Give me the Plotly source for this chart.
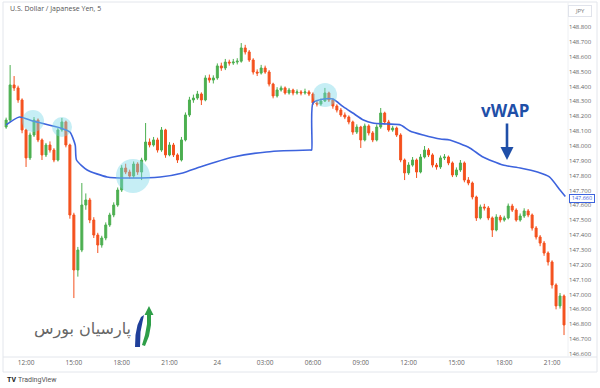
import pandas as pd
import plotly.graph_objects as go

# ---------------- data (15-min aggregation) ----------------
first_open = 148.127
close = [148.174, 148.410, 148.390, 148.309, 148.107, 147.919, 148.073, 148.174, 148.040, 147.939,
         148.006, 147.972, 147.905, 148.107, 148.161, 148.006, 147.535, 147.165, 147.299, 147.602,
         147.636, 147.501, 147.400, 147.333, 147.380, 147.468, 147.535, 147.602, 147.703, 147.851,
         147.824, 147.797, 147.878, 147.824, 147.905, 148.026, 148.006, 148.040, 147.972, 148.107,
         147.939, 148.006, 147.939, 147.905, 148.040, 148.208, 148.309, 148.322, 148.349, 148.309,
         148.457, 148.443, 148.457, 148.538, 148.524, 148.564, 148.558, 148.564, 148.570, 148.659,
         148.632, 148.578, 148.497, 148.490, 148.524, 148.497, 148.416, 148.336, 148.376, 148.390,
         148.356, 148.376, 148.356, 148.363, 148.356, 148.363, 148.349, 148.289, 148.282, 148.302,
         148.356, 148.309, 148.268, 148.241, 148.208, 148.194, 148.161, 148.093, 148.127, 148.040,
         148.134, 148.087, 148.040, 148.127, 148.221, 148.161, 148.107, 148.120, 148.073, 147.905,
         147.818, 147.871, 147.905, 147.824, 147.925, 147.972, 147.939, 147.871, 147.858, 147.919,
         147.925, 147.885, 147.804, 147.838, 147.885, 147.770, 147.750, 147.656, 147.515, 147.589,
         147.582, 147.515, 147.434, 147.521, 147.501, 147.515, 147.595, 147.568, 147.501, 147.528,
         147.562, 147.535, 147.447, 147.387, 147.346, 147.279, 147.219, 147.064, 146.923, 146.990,
         146.795]
high = [148.190, 148.544, 148.470, 148.405, 148.320, 148.115, 148.090, 148.194, 148.185, 148.050,
        148.020, 148.030, 147.985, 148.120, 148.188, 148.170, 148.015, 147.550, 147.320, 147.750,
        147.680, 147.650, 147.520, 147.415, 147.395, 147.485, 147.550, 147.620, 147.720, 147.870,
        147.880, 147.840, 147.895, 147.890, 147.920, 148.154, 148.050, 148.060, 148.055, 148.127,
        148.115, 148.025, 148.020, 147.950, 148.060, 148.225, 148.330, 148.345, 148.370, 148.360,
        148.475, 148.480, 148.475, 148.555, 148.560, 148.585, 148.580, 148.585, 148.590, 148.692,
        148.680, 148.645, 148.590, 148.515, 148.545, 148.540, 148.510, 148.425, 148.395, 148.405,
        148.400, 148.390, 148.385, 148.380, 148.375, 148.385, 148.375, 148.360, 148.305, 148.320,
        148.390, 148.365, 148.320, 148.280, 148.255, 148.225, 148.205, 148.170, 148.145, 148.135,
        148.150, 148.145, 148.100, 148.145, 148.255, 148.230, 148.175, 148.135, 148.130, 148.085,
        147.915, 147.890, 147.925, 147.915, 147.945, 147.999, 147.985, 147.950, 147.885, 147.935,
        147.945, 147.935, 147.895, 147.855, 147.905, 147.895, 147.790, 147.760, 147.665, 147.605,
        147.610, 147.595, 147.525, 147.540, 147.535, 147.530, 147.612, 147.610, 147.580, 147.545,
        147.580, 147.575, 147.545, 147.460, 147.400, 147.360, 147.290, 147.230, 147.075, 147.010,
        147.000]
low = [148.115, 148.160, 148.370, 148.290, 148.085, 147.858, 147.905, 148.060, 148.025, 147.905,
       147.925, 147.955, 147.890, 147.895, 148.095, 147.990, 147.510, 146.976, 147.120, 147.285,
       147.570, 147.480, 147.380, 147.279, 147.315, 147.365, 147.455, 147.520, 147.590, 147.690,
       147.810, 147.780, 147.785, 147.805, 147.770, 147.895, 147.990, 147.995, 147.955, 147.960,
       147.920, 147.930, 147.925, 147.885, 147.895, 148.030, 148.195, 148.290, 148.310, 148.275,
       148.300, 148.425, 148.420, 148.445, 148.505, 148.510, 148.540, 148.545, 148.548, 148.560,
       148.615, 148.565, 148.480, 148.470, 148.480, 148.485, 148.400, 148.320, 148.325, 148.365,
       148.345, 148.345, 148.340, 148.345, 148.340, 148.345, 148.335, 148.275, 148.265, 148.270,
       148.295, 148.295, 148.250, 148.225, 148.195, 148.180, 148.145, 148.075, 148.080, 147.986,
       148.030, 148.070, 148.025, 148.030, 148.115, 148.145, 148.095, 148.095, 148.060, 147.890,
       147.770, 147.805, 147.860, 147.784, 147.815, 147.915, 147.925, 147.855, 147.840, 147.845,
       147.905, 147.870, 147.790, 147.790, 147.825, 147.755, 147.735, 147.640, 147.495, 147.505,
       147.565, 147.500, 147.387, 147.425, 147.485, 147.490, 147.505, 147.555, 147.490, 147.490,
       147.515, 147.520, 147.430, 147.370, 147.325, 147.260, 147.195, 147.040, 146.900, 146.905,
       146.727]

vwap_times = ["2023-11-23 10:45", "2023-11-23 11:35", "2023-11-23 12:25", "2023-11-23 14:10",
              "2023-11-23 14:45", "2023-11-23 15:05", "2023-11-23 15:10", "2023-11-23 15:50",
              "2023-11-23 17:05", "2023-11-23 18:20", "2023-11-23 20:25", "2023-11-23 21:50",
              "2023-11-23 22:55", "2023-11-24 01:00", "2023-11-24 03:05", "2023-11-24 05:50",
              "2023-11-24 05:55", "2023-11-24 06:00", "2023-11-24 06:40", "2023-11-24 07:15",
              "2023-11-24 07:55", "2023-11-24 08:30", "2023-11-24 09:10", "2023-11-24 09:45",
              "2023-11-24 10:40", "2023-11-24 11:30", "2023-11-24 12:05", "2023-11-24 12:55",
              "2023-11-24 14:00", "2023-11-24 14:35", "2023-11-24 15:50", "2023-11-24 16:40",
              "2023-11-24 17:55", "2023-11-24 19:00", "2023-11-24 20:05", "2023-11-24 20:50",
              "2023-11-24 21:30", "2023-11-24 21:50"]
vwap_values = [148.141, 148.194, 148.167, 148.120, 148.093, 148.006, 147.905, 147.838,
               147.791, 147.784, 147.791, 147.818, 147.858, 147.925, 147.959, 147.972,
               147.972, 148.289, 148.315, 148.315, 148.262, 148.221, 148.174, 148.154,
               148.147, 148.141, 148.100, 148.073, 148.046, 148.040, 147.986, 147.925,
               147.871, 147.851, 147.824, 147.791, 147.703, 147.660]

price_ticks = [146.6, 146.7, 146.8, 146.9, 147.0, 147.1, 147.2, 147.3, 147.4, 147.5, 147.6,
               147.7, 147.8, 147.9, 148.0, 148.1, 148.2, 148.3, 148.4, 148.5, 148.6, 148.7, 148.8]
time_ticks = ["2023-11-23 12:00", "2023-11-23 15:00", "2023-11-23 18:00", "2023-11-23 21:00",
              "2023-11-24 00:00", "2023-11-24 03:00", "2023-11-24 06:00", "2023-11-24 09:00",
              "2023-11-24 12:00", "2023-11-24 15:00", "2023-11-24 18:00", "2023-11-24 21:00"]
time_tick_labels = ["12:00", "15:00", "18:00", "21:00", "24", "03:00", "06:00", "09:00",
                    "12:00", "15:00", "18:00", "21:00"]
last_vwap_label = "147.660"

# ---------------- figure ----------------
times = pd.date_range("2023-11-23 10:45", periods=len(close), freq="15min")
opens = [first_open] + close[:-1]

W, H = 600, 388
L, R, T, B = 4, 568, 3, 357  # plot area in pixels


def px(x):
    return (x - L) / (R - L)


def py(y):
    return (B - y) / (B - T)


GREEN = "#4caf50"
RED = "#f4511e"
BLUE = "#3d63dd"
DARKBLUE = "#1f4fa8"

fig = go.Figure()
fig.add_trace(go.Candlestick(
    x=times, open=opens, high=high, low=low, close=close,
    increasing=dict(line=dict(color=GREEN, width=1), fillcolor=GREEN),
    decreasing=dict(line=dict(color=RED, width=1), fillcolor=RED),
    whiskerwidth=0, showlegend=False, hoverinfo="skip"))
fig.add_trace(go.Scatter(
    x=pd.to_datetime(vwap_times), y=vwap_values, mode="lines",
    line=dict(color=BLUE, width=1.6, shape="spline", smoothing=0.6),
    showlegend=False, hoverinfo="skip"))

shapes = []
# highlight circles on VWAP touches
for cx, cy, r in [(33, 121, 11), (62, 127, 10), (133, 176, 17), (325, 95, 12)]:
    shapes.append(dict(type="circle", xref="paper", yref="paper", xsizemode="pixel",
                       ysizemode="pixel", xanchor=px(cx), yanchor=py(cy),
                       x0=-r, x1=r, y0=-r, y1=r, fillcolor="rgba(120,215,232,0.42)",
                       line=dict(width=0), layer="above"))

# frame lines
shapes.append(dict(type="rect", xref="paper", yref="paper", x0=px(3), x1=px(597),
                   y0=py(372), y1=py(2), line=dict(color="#e3e6ec", width=1), layer="below"))
shapes.append(dict(type="line", xref="paper", yref="paper", x0=px(3), x1=px(597),
                   y0=0, y1=0, line=dict(color="#e3e6ec", width=1)))
shapes.append(dict(type="line", xref="paper", yref="paper", x0=1, x1=1,
                   y0=0, y1=py(2), line=dict(color="#eef0f3", width=1)))


def poly(points):
    p = "M " + " L ".join(f"{px(a):.5f},{py(b):.5f}" for a, b in points) + " Z"
    return p


# logo icon
shapes.append(dict(type="path", xref="paper", yref="paper",
                   path=poly([(142, 345), (145, 335), (147, 324), (147, 315), (144.5, 315),
                              (149, 306), (153.5, 315), (151, 315), (151, 325), (149, 336),
                              (145, 346)]),
                   fillcolor="#2e9e48", line=dict(width=0)))
shapes.append(dict(type="path", xref="paper", yref="paper",
                   path=poly([(135, 347), (135.5, 335), (137.5, 325), (141, 317), (144, 315),
                              (142.5, 322), (140.5, 332), (140, 347)]),
                   fillcolor="#1f3f9a", line=dict(width=0)))

annotations = [
    dict(text="U.S. Dollar / Japanese Yen, 5", xref="paper", yref="paper", x=px(8), y=py(9),
         xanchor="left", yanchor="middle", showarrow=False,
         font=dict(family="Open Sans", size=7, color="#555")),
    dict(text="JPY", xref="paper", yref="paper", x=px(580), y=py(11), xanchor="center",
         yanchor="middle", showarrow=False, bordercolor="#e0e3eb", borderwidth=1, borderpad=1,
         bgcolor="white", width=20, font=dict(family="Open Sans", size=6, color="#777")),
    dict(text="<b>vWAP</b>", xref="paper", yref="paper", x=px(505), y=py(110), xanchor="center",
         yanchor="middle", showarrow=False,
         font=dict(family="Open Sans", size=17, color=DARKBLUE)),
    dict(text="", xref="paper", yref="paper", x=px(507), y=py(160), ax=0, ay=-38,
         showarrow=True, arrowhead=2, arrowsize=1, arrowwidth=2.6, arrowcolor=DARKBLUE),
    dict(text=last_vwap_label, xref="paper", yref="paper", x=px(582), y=py(198.3),
         xanchor="center", yanchor="middle", showarrow=False, bgcolor="white",
         bordercolor=BLUE, borderwidth=1, borderpad=0, height=6.5, width=24,
         font=dict(family="Open Sans", size=5.5, color=BLUE)),
    dict(text="پارسیان بورس", xref="paper", yref="paper", x=px(82), y=py(329),
         xanchor="center", yanchor="middle", showarrow=False,
         font=dict(family="DejaVu Sans", size=16, color="#666")),
    dict(text="<b>TV</b>", xref="paper", yref="paper", x=px(5), y=py(380), xanchor="left",
         yanchor="middle", showarrow=False, font=dict(family="Roboto", size=7, color="#222")),
    dict(text="TradingView", xref="paper", yref="paper", x=px(16), y=py(380), xanchor="left",
         yanchor="middle", showarrow=False, font=dict(family="Roboto", size=7, color="#555")),
]

y_top = 148.8 + (27 - T) / 148.6
y_bot = 148.8 - (B - 27) / 148.6

fig.update_layout(
    width=W, height=H, margin=dict(l=L, r=W - R, t=T, b=H - B),
    paper_bgcolor="white", plot_bgcolor="white",
    shapes=shapes, annotations=annotations,
    xaxis=dict(type="date", range=["2023-11-23 10:37", "2023-11-24 22:00"],
               rangeslider=dict(visible=False), showgrid=False, zeroline=False,
               tickvals=time_ticks, ticktext=time_tick_labels, ticks="",
               tickfont=dict(family="Open Sans", size=6.5, color="#666"), showline=False),
    yaxis=dict(range=[y_bot, y_top], side="right", showgrid=False, zeroline=False,
               tickvals=price_ticks, ticktext=[f"{v:.3f}" for v in price_ticks], ticks="",
               tickfont=dict(family="Open Sans", size=6, color="#666"), showline=False),
    hovermode=False,
)

fig.write_html("out.html")
